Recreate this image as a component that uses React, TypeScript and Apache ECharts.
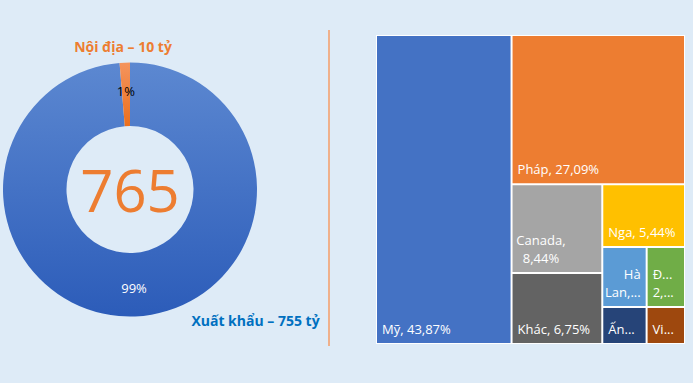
import React, { useEffect, useRef } from 'react';
import * as echarts from 'echarts';

// ---- Donut data (tỷ) ----
const donutCategories = ['Xuất khẩu', 'Nội địa'];
const donutValues = [755, 10];
const donutUnit = 'tỷ';

// ---- Treemap data (% share of exports) ----
const countries = ['Mỹ', 'Pháp', 'Canada', 'Khác', 'Nga', 'Hà Lan', 'Đức', 'Ấn Độ', 'Vi...'];
const shares = [43.87, 27.09, 8.44, 6.75, 5.44, 2.79, 2.41, 1.72, 1.49];
const shownLabels = [
  'Mỹ, 43,87%',
  'Pháp, 27,09%',
  'Canada,\n8,44%',
  'Khác, 6,75%',
  'Nga, 5,44%',
  'Hà\nLan,...',
  'Đ...\n2,...',
  'Ấn...',
  'Vi...',
];

const cellColors = ['#4472c4', '#ed7d31', '#a5a5a5', '#636363', '#ffc000', '#5b9bd5', '#70ad47', '#264478', '#9e480e'];
const FONT = '"Open Sans", "Noto Sans", sans-serif';
const BG = '#deebf7';

export default function App() {
  const ref = useRef<HTMLDivElement>(null);

  useEffect(() => {
    document.body.style.margin = '0';
    const chart = echarts.init(ref.current!, null, { renderer: 'svg' });

    const leaf = (i: number, label: any = {}) => ({
      name: countries[i],
      value: shares[i],
      itemStyle: { color: cellColors[i], borderColor: '#fff', borderWidth: 1 },
      label,
    });

    // nesting only steers the squarified layout to the reference arrangement
    const treeData = [
      leaf(0),
      {
        name: 'g1',
        children: [
          leaf(1),
          {
            name: 'g2',
            children: [
              leaf(2, { position: 'insideBottom', align: 'center', offset: [-16, 0] }),
              leaf(3),
              {
                name: 'g4',
                children: [
                  leaf(4),
                  {
                    name: 'g5',
                    children: [
                      { name: 'g6', children: [leaf(5, { position: 'insideBottomRight', align: 'right' }), leaf(6)] },
                      { name: 'g7', children: [leaf(7), leaf(8)] },
                    ],
                  },
                ],
              },
            ],
          },
        ],
      },
    ];

    const total = donutValues.reduce((a, b) => a + b, 0);

    const blueGrad = new echarts.graphic.LinearGradient(0, 0, 0, 1, [
      { offset: 0, color: '#5c88d1' },
      { offset: 1, color: '#2c5cb9' },
    ]);
    const orangeGrad = new echarts.graphic.LinearGradient(0, 0, 0, 1, [
      { offset: 0, color: '#f4945e' },
      { offset: 1, color: '#ec6f1c' },
    ]);

    chart.setOption({
      animation: false,
      backgroundColor: BG,
      series: [
        {
          type: 'pie',
          center: [130, 189.5],
          radius: [63.5, 127],
          startAngle: 90,
          clockwise: true,
          silent: true,
          avoidLabelOverlap: false,
          labelLine: { show: false },
          label: {
            position: 'inside',
            fontFamily: FONT,
            fontSize: 13,
            formatter: (p: any) => Math.round(p.percent) + '%',
          },
          data: donutCategories.map((n, i) => ({
            name: n,
            value: donutValues[i],
            itemStyle: { color: i === 0 ? blueGrad : orangeGrad },
            label: { color: i === 0 ? '#ffffff' : '#000000' },
          })),
        },
        {
          type: 'treemap',
          left: 376,
          top: 35,
          width: 309,
          height: 309,
          squareRatio: 1.2,
          sort: false,
          roam: false,
          nodeClick: false,
          silent: true,
          visibleMin: 0,
          breadcrumb: { show: false },
          itemStyle: { borderWidth: 0, gapWidth: 0, borderColor: '#fff' },
          label: {
            show: true,
            position: 'insideBottomLeft',
            distance: 5,
            padding: 0,
            color: '#fff',
            fontFamily: FONT,
            fontSize: 13,
            lineHeight: 18,
            formatter: (p: any) => {
              const i = countries.indexOf(p.name);
              return i >= 0 ? shownLabels[i] : '';
            },
          },
          data: treeData,
        },
      ],
      graphic: [
        {
          type: 'line',
          shape: { x1: 329, y1: 30, x2: 329, y2: 346 },
          style: { stroke: '#efb08b', lineWidth: 2 },
        },
        {
          type: 'text',
          x: 123,
          y: 46.5,
          style: {
            text: `${donutCategories[1]} – ${donutValues[1]} ${donutUnit}`,
            fill: '#ed7d31',
            fontFamily: FONT,
            fontWeight: 'bold',
            fontSize: 14,
            align: 'center',
            verticalAlign: 'middle',
          },
        },
        {
          type: 'text',
          x: 255.5,
          y: 320,
          style: {
            text: `${donutCategories[0]} – ${donutValues[0]} ${donutUnit}`,
            fill: '#0070c0',
            fontFamily: FONT,
            fontWeight: 'bold',
            fontSize: 14,
            align: 'center',
            verticalAlign: 'middle',
          },
        },
        {
          type: 'text',
          x: 130,
          y: 189.5,
          style: {
            text: String(total),
            fill: '#ed7d31',
            fontFamily: FONT,
            fontSize: 58,
            align: 'center',
            verticalAlign: 'middle',
            shadowColor: 'rgba(0,0,0,0.25)',
            shadowBlur: 3,
            shadowOffsetX: 1,
            shadowOffsetY: 1,
          },
        },
      ],
    });

    return () => chart.dispose();
  }, []);

  return <div ref={ref} style={{ width: 693, height: 383, background: BG }} />;
}
